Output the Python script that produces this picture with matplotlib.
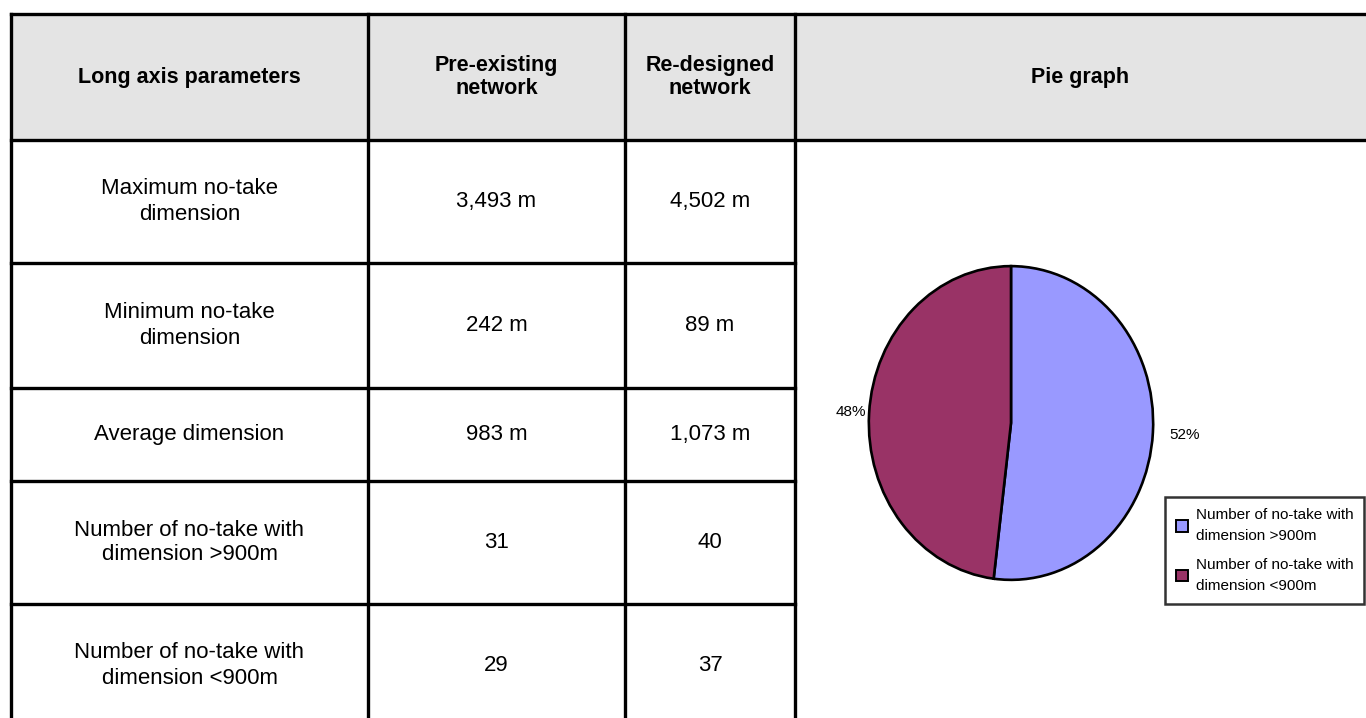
import matplotlib
matplotlib.use("Agg")
import matplotlib.pyplot as plt
from matplotlib.patches import Rectangle

plt.rcParams['font.family'] = ['Liberation Sans', 'DejaVu Sans']

# table content
headers = ["Long axis parameters", "Pre-existing\nnetwork", "Re-designed\nnetwork", "Pie graph"]
row_labels = ["Maximum no-take\ndimension", "Minimum no-take\ndimension", "Average dimension",
              "Number of no-take with\ndimension >900m", "Number of no-take with\ndimension <900m"]
pre_existing = ["3,493 m", "242 m", "983 m", "31", "29"]
re_designed = ["4,502 m", "89 m", "1,073 m", "40", "37"]

# pie: re-designed network counts (>900m, <900m)
pie_values = [40, 37]
pie_colors = ["#9999FF", "#993366"]

W, H = 1366, 718
col_x = [11, 368, 625, 795, 1372]
row_y = [14, 140, 263, 388, 481, 604, 727]
lw = 2.4

fig = plt.figure(figsize=(W / 100, H / 100), dpi=100)
ax = fig.add_axes([0, 0, 1, 1])
ax.set_xlim(0, W)
ax.set_ylim(H, 0)
ax.axis('off')

# header background
ax.add_patch(Rectangle((col_x[0], row_y[0]), col_x[-1] - col_x[0], row_y[1] - row_y[0],
                       facecolor="#E4E4E4", edgecolor="none"))

# grid lines
for y in row_y[:-1]:
	x_end = col_x[-1] if y in (row_y[0], row_y[1]) else col_x[3]
	ax.plot([col_x[0], x_end], [y, y], color="black", lw=lw, solid_capstyle='projecting')
for x in col_x[:-1]:
	ax.plot([x, x], [row_y[0], row_y[-1]], color="black", lw=lw, solid_capstyle='projecting')

# header text
for i, h in enumerate(headers):
	cx = (col_x[i] + col_x[i + 1]) / 2
	if i == 3:
		cx = (col_x[3] + W) / 2
	cy = (row_y[0] + row_y[1]) / 2
	ax.text(cx, cy, h, ha='center', va='center', fontsize=15.5, fontweight='bold',
	        linespacing=1.15, color="black")

# body text
for r in range(len(row_labels)):
	cy = (row_y[r + 1] + row_y[r + 2]) / 2
	for c, txt in enumerate([row_labels[r], pre_existing[r], re_designed[r]]):
		cx = (col_x[c] + col_x[c + 1]) / 2
		ax.text(cx, cy, txt, ha='center', va='center', fontsize=16, linespacing=1.25, color="black")

# pie chart
pcx, pcy, rx, ry = 1011, 423, 145, 160
pax = fig.add_axes([(pcx - rx) / W, (H - pcy - ry) / H, 2 * rx / W, 2 * ry / H])
wedges, texts, autotexts = pax.pie(pie_values, colors=pie_colors, startangle=90, counterclock=False,
                                   autopct='%1.0f%%', pctdistance=1.22,
                                   wedgeprops=dict(edgecolor="black", linewidth=1.9),
                                   textprops=dict(fontsize=11, color="black"))
px, py = autotexts[1].get_position()
autotexts[1].set_position((px * 1.13 / 1.22, py * 1.13 / 1.22))
pax.set_aspect('auto')
pax.set_xlim(-1.02, 1.02)
pax.set_ylim(-1.02, 1.02)

legend_labels = [row_labels[3], row_labels[4]]
leg = fig.legend(wedges, legend_labels, loc='upper left',
                 bbox_to_anchor=(1165 / W, 1 - 497 / H - 0.01, 199 / W, 0.01), mode='expand',
                 fontsize=11, frameon=True, fancybox=False, edgecolor="black",
                 handlelength=0.75, handleheight=0.75, handletextpad=0.5, borderpad=0.75,
                 labelspacing=1.0, borderaxespad=0)
leg.get_frame().set_linewidth(1.8)
for t in leg.get_texts():
	t.set_linespacing(1.6)
for hnd in leg.legend_handles:
	hnd.set_linewidth(1.4)

fig.savefig("out.png", dpi=100)
